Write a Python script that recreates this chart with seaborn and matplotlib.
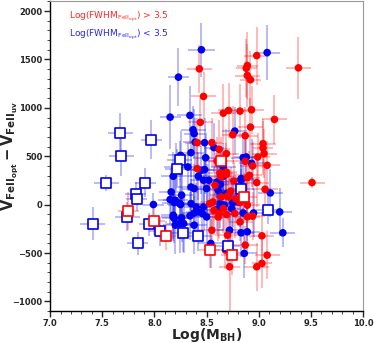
import numpy as np
import pandas as pd
import matplotlib
matplotlib.use("Agg")
import matplotlib.pyplot as plt
import seaborn as sns
from matplotlib.ticker import MultipleLocator

sns.set_style("white")

# -------------------------
# Data
# -------------------------
# red filled circles: Log(FWHM) > 3.5
red_mbh = [8.98, 9.38, 8.43, 8.89, 8.88, 8.89, 8.92, 8.47, 8.44, 8.66, 8.71, 8.82, 8.93,
           9.15, 8.92, 8.75, 8.87, 8.41, 8.55, 8.62, 8.69, 9.04, 9.04, 9.05, 8.99, 8.60,
           8.87, 8.94, 9.08, 8.41, 8.63, 8.69, 8.64, 8.69, 8.91, 8.89, 8.76, 8.98, 9.06,
           8.71, 8.64, 8.70, 8.53, 8.56, 8.82, 8.89, 8.61, 8.62, 8.77, 8.69, 8.94, 8.89,
           8.82, 8.55, 8.70, 9.03, 8.87, 8.68, 8.72, 9.08, 9.03, 8.98, 9.51, 8.58, 8.73,
           8.78, 8.66, 8.57]
red_dv = [1540, 1413, 1403, 1437, 1409, 1334, 1290, 1118, 850, 945, 973, 966, 980,
          880, 801, 722, 712, 640, 640, 571, 527, 630, 585, 527, 492, 451,
          447, 399, 406, 372, 327, 337, 286, 313, 303, 279, 244, 228, 159,
          79, 79, 87, 11, 28, 22, -6, -127, -92, -92, -102, -120, -127,
          -178, -264, -315, -322, -418, -470, -642, -522, -607, -642, 228, 200, 140,
          60, -40, -60]
red_xerr = [0.12, 0.12, 0.12, 0.10, 0.10, 0.12, 0.10, 0.12, 0.12, 0.12, 0.10, 0.12, 0.12,
            0.12, 0.12, 0.10, 0.12, 0.12, 0.12, 0.10, 0.12, 0.12, 0.10, 0.12, 0.12, 0.10,
            0.12, 0.12, 0.12, 0.12, 0.12, 0.10, 0.12, 0.10, 0.12, 0.12, 0.12, 0.12, 0.12,
            0.12, 0.10, 0.12, 0.12, 0.12, 0.12, 0.12, 0.12, 0.12, 0.12, 0.10, 0.12, 0.12,
            0.12, 0.12, 0.12, 0.12, 0.12, 0.12, 0.10, 0.12, 0.10, 0.12, 0.12, 0.12, 0.12,
            0.12, 0.12, 0.10]
red_yerr = [300, 320, 250, 350, 300, 330, 300, 250, 250, 300, 280, 280, 250,
            250, 300, 300, 300, 250, 250, 300, 250, 250, 280, 250, 250, 250,
            300, 250, 250, 250, 250, 300, 250, 250, 250, 250, 200, 250, 250,
            250, 250, 250, 250, 250, 250, 250, 250, 250, 250, 250, 250, 250,
            200, 200, 200, 250, 200, 200, 550, 250, 250, 250, 60, 250, 250,
            250, 250, 250]

# blue filled circles: Log(FWHM) < 3.5
blue_mbh = [8.45, 9.08, 8.23, 8.15, 8.34, 8.37, 8.38, 8.77, 8.39, 8.48, 8.57, 8.35, 8.49,
            8.25, 8.85, 8.88, 8.93, 8.21, 8.32, 8.45, 8.48, 8.66, 8.18, 8.66, 8.42, 8.47,
            8.52, 8.60, 8.83, 8.83, 8.16, 8.26, 8.35, 8.38, 8.50, 8.61, 8.63, 8.65, 8.69,
            8.20, 8.24, 7.99, 8.15, 8.19, 8.25, 8.35, 8.40, 8.47, 8.63, 8.67, 8.75, 8.80,
            8.74, 8.60, 8.18, 8.19, 8.26, 8.24, 8.38, 8.42, 8.34, 8.46, 8.50, 8.28, 8.38,
            8.20, 8.18, 8.85, 8.95, 9.11, 9.20, 8.72, 8.83, 8.89, 9.23, 8.54, 8.86]
blue_dv = [1600, 1571, 1317, 904, 922, 774, 733, 760, 646, 640, 589, 537, 485,
           509, 485, 492, 427, 389, 389, 355, 362, 389, 293, 293, 293, 252,
           252, 234, 252, 269, 131, 97, 182, 166, 166, 148, 210, 97, 114,
           45, 11, 1, 53, 22, 1, 11, -24, -24, 11, -6, 22, 28,
           -40, -51, -109, -143, -137, -195, -86, -75, -116, -92, -127, -195, -212,
           -212, -127, -86, -86, 121, -75, -264, -291, -281, -291, -401, -504]
blue_xerr = [0.13, 0.12, 0.10, 0.10, 0.12, 0.12, 0.10, 0.12, 0.12, 0.12, 0.10, 0.12, 0.12,
             0.12, 0.12, 0.12, 0.12, 0.12, 0.12, 0.12, 0.12, 0.12, 0.12, 0.12, 0.12, 0.12,
             0.12, 0.12, 0.12, 0.12, 0.12, 0.12, 0.12, 0.12, 0.12, 0.12, 0.12, 0.12, 0.12,
             0.12, 0.12, 0.10, 0.12, 0.12, 0.12, 0.12, 0.12, 0.12, 0.12, 0.12, 0.12, 0.12,
             0.12, 0.12, 0.12, 0.12, 0.12, 0.12, 0.12, 0.12, 0.12, 0.12, 0.12, 0.12, 0.12,
             0.12, 0.12, 0.12, 0.12, 0.12, 0.12, 0.12, 0.12, 0.12, 0.12, 0.12, 0.12]
blue_yerr = [280, 280, 300, 330, 300, 250, 250, 250, 250, 250, 250, 250, 250,
             250, 250, 250, 250, 250, 250, 250, 250, 250, 250, 250, 250, 250,
             250, 250, 250, 250, 250, 250, 250, 250, 250, 250, 250, 250, 250,
             250, 250, 120, 250, 250, 250, 250, 250, 250, 250, 250, 250, 250,
             250, 250, 250, 250, 250, 300, 250, 250, 250, 250, 300, 300, 300,
             300, 250, 250, 250, 250, 250, 250, 250, 250, 150, 250, 250]

# blue open squares
bsq_mbh = [7.67, 7.68, 7.97, 7.54, 7.91, 7.82, 7.83, 7.74, 7.41, 7.95, 8.05, 7.84,
           8.27, 8.42, 8.24, 8.22, 8.83, 9.09, 8.70]
bsq_dv = [743, 499, 671, 224, 224, 114, 56, -127, -199, -205, -274, -401,
          -288, -326, 458, 372, 166, -51, -429]
bsq_xerr = [0.12, 0.12, 0.10, 0.12, 0.10, 0.10, 0.10, 0.12, 0.12, 0.10, 0.10, 0.10,
            0.12, 0.12, 0.12, 0.12, 0.12, 0.12, 0.12]
bsq_yerr = [200, 200, 200, 80, 150, 120, 120, 150, 170, 120, 150, 120,
            200, 150, 200, 200, 200, 150, 200]

# red open squares
rsq_mbh = [7.75, 8.00, 8.11, 8.53, 8.74, 8.86, 8.64]
rsq_dv = [-65, -168, -322, -470, -522, 79, 450]
rsq_xerr = [0.10, 0.10, 0.10, 0.10, 0.10, 0.12, 0.12]
rsq_yerr = [200, 150, 150, 180, 200, 250, 250]

red = "#ff0000"
blue = "#0000ee"

# -------------------------
# Figure
# -------------------------
fig = plt.figure(figsize=(3.74, 3.43), dpi=100)
ax = fig.add_axes([0.134, 0.093, 0.837, 0.903])

# error bars first
for xs, ys, xe, ye, c in [(red_mbh, red_dv, red_xerr, red_yerr, red),
                          (blue_mbh, blue_dv, blue_xerr, blue_yerr, blue),
                          (bsq_mbh, bsq_dv, bsq_xerr, bsq_yerr, blue),
                          (rsq_mbh, rsq_dv, rsq_xerr, rsq_yerr, red)]:
    ax.errorbar(xs, ys, xerr=xe, yerr=ye, fmt="none", ecolor=c,
                elinewidth=1.1, alpha=0.35, capsize=0, zorder=1)

circles = pd.DataFrame({
    "mbh": blue_mbh + red_mbh,
    "dv": blue_dv + red_dv,
    "grp": ["lo"] * len(blue_mbh) + ["hi"] * len(red_mbh),
})
sns.scatterplot(data=circles, x="mbh", y="dv", hue="grp",
                palette={"hi": red, "lo": blue}, s=30, linewidth=0,
                legend=False, ax=ax, zorder=3)

squares = pd.DataFrame({
    "mbh": bsq_mbh + rsq_mbh,
    "dv": bsq_dv + rsq_dv,
    "grp": ["lo"] * len(bsq_mbh) + ["hi"] * len(rsq_mbh),
})
for g, c in [("lo", blue), ("hi", red)]:
    sub = squares[squares["grp"] == g]
    ax.scatter(sub["mbh"], sub["dv"], marker="s", s=48, facecolor="white",
               edgecolor=c, linewidth=1.2, zorder=4)

# legend as coloured text
ax.text(0.06, 0.975, r"Log(FWHM$_{\mathrm{FeII_{opt}}}$) > 3.5", color=red,
        fontsize=6.5, transform=ax.transAxes, va="top", alpha=0.85)
ax.text(0.06, 0.915, r"Log(FWHM$_{\mathrm{FeII_{opt}}}$) < 3.5", color=blue,
        fontsize=6.5, transform=ax.transAxes, va="top", alpha=0.85)

ax.set_xlim(7.0, 10.0)
ax.set_ylim(-1100, 2100)
ax.xaxis.set_major_locator(MultipleLocator(0.5))
ax.xaxis.set_minor_locator(MultipleLocator(0.1))
ax.yaxis.set_major_locator(MultipleLocator(500))
ax.yaxis.set_minor_locator(MultipleLocator(100))
ax.tick_params(which="major", length=4, width=1, labelsize=6, direction="out",
               pad=1.5, bottom=True, left=True, top=False, right=False)
ax.tick_params(which="minor", length=2, width=0.6, direction="out",
               bottom=True, left=True, top=False, right=False)
for lab in ax.get_xticklabels() + ax.get_yticklabels():
    lab.set_fontweight("bold")

for s in ["left", "bottom"]:
    ax.spines[s].set_color("black")
    ax.spines[s].set_linewidth(1)
for s in ["top", "right"]:
    ax.spines[s].set_color("#999999")
    ax.spines[s].set_linewidth(0.8)

ax.set_xlabel(r"$\mathbf{Log(M_{BH})}$", fontsize=10)
ax.xaxis.set_label_coords(0.5, -0.049)
ax.set_ylabel(r"$\mathbf{V_{FeII_{opt}} - V_{FeII_{uv}}}$", fontsize=10.5)
ax.yaxis.set_label_coords(-0.094, 0.5)

fig.savefig("out.png", dpi=100)
plt.close(fig)
